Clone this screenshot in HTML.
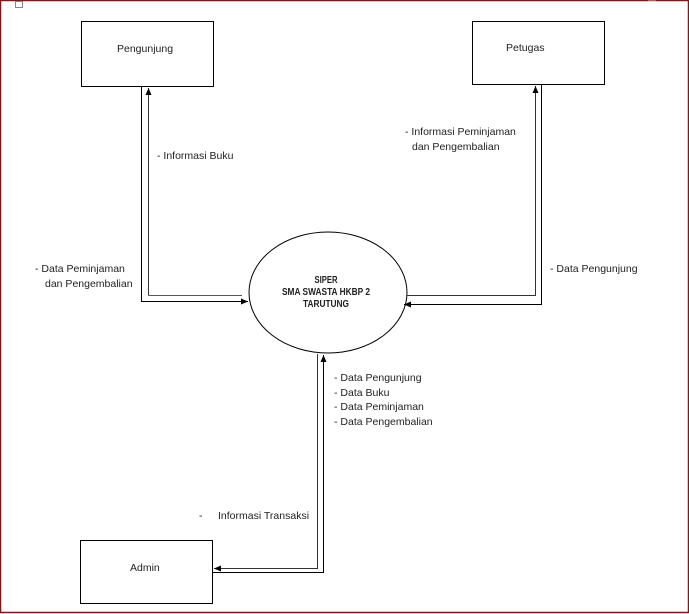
<!DOCTYPE html>
<html><head><meta charset="utf-8"><style>
html,body{margin:0;padding:0;background:#fff}
svg{display:block}
text{font-family:"Liberation Sans",sans-serif;font-size:10.5px;fill:#222}
</style></head><body>
<svg width="689" height="614" viewBox="0 0 689 614" xmlns="http://www.w3.org/2000/svg">
<defs>
<marker id="a" markerWidth="8" markerHeight="8" refX="7" refY="4" orient="auto" markerUnits="userSpaceOnUse">
<path d="M0,1 L7,4 L0,7 Z" fill="#000"/></marker>
</defs>
<rect x="0.5" y="0.5" width="688" height="612" fill="#fff" stroke="#7a1a1a" stroke-width="1.5"/>
<rect x="15.5" y="1.5" width="7" height="6" fill="none" stroke="#888" stroke-width="1"/>
<line x1="648" y1="1" x2="656" y2="1" stroke="#caa" stroke-width="1"/>
<g fill="#fff" stroke="#000" stroke-width="1">
<rect x="81.5" y="21.5" width="132" height="65"/>
<rect x="472.5" y="21.5" width="132" height="63"/>
<rect x="80.5" y="540.5" width="132" height="63"/>
<ellipse cx="328" cy="292.5" rx="79" ry="60.5"/>
</g>
<g fill="none" stroke-width="1">
<polyline points="148.5,295.5 148.5,88" stroke="#333" marker-end="url(#a)"/>
<line x1="148.5" y1="295.5" x2="242" y2="295.5" stroke="#555"/>
<polyline points="141.5,86 141.5,301.5 248,301.5" stroke="#000" marker-end="url(#a)"/>
<polyline points="407,295.5 535.5,295.5 535.5,86" stroke="#333" marker-end="url(#a)"/>
<polyline points="541.5,84 541.5,304.5 404,304.5" stroke="#000" marker-end="url(#a)"/>
<polyline points="317.5,354 317.5,568.5 214,568.5" stroke="#333" marker-end="url(#a)"/>
<polyline points="213,572.5 323.5,572.5 323.5,355" stroke="#000" marker-end="url(#a)"/>
</g>
<text x="117" y="52">Pengunjung</text>
<text x="506" y="51">Petugas</text>
<text x="130" y="571">Admin</text>
<g style="font-size:7.5px;font-weight:bold" text-anchor="middle">
<text x="326" y="283" textLength="23" lengthAdjust="spacingAndGlyphs">SIPER</text>
<text x="326" y="295" textLength="88" lengthAdjust="spacingAndGlyphs">SMA SWASTA HKBP 2</text>
<text x="326" y="307" textLength="46" lengthAdjust="spacingAndGlyphs">TARUTUNG</text>
</g>
<text x="157" y="159">-  Informasi Buku</text>
<text x="35" y="272">-  Data Peminjaman</text>
<text x="45" y="287">dan Pengembalian</text>
<text x="405" y="135">-  Informasi Peminjaman</text>
<text x="412" y="150">dan Pengembalian</text>
<text x="550" y="272">-  Data Pengunjung</text>
<text x="334" y="381">-  Data Pengunjung</text>
<text x="334" y="396">-  Data Buku</text>
<text x="334" y="410">-  Data Peminjaman</text>
<text x="334" y="425">-  Data Pengembalian</text>
<text x="199" y="519">-</text>
<text x="218" y="519">Informasi Transaksi</text>
</svg>
</body></html>
